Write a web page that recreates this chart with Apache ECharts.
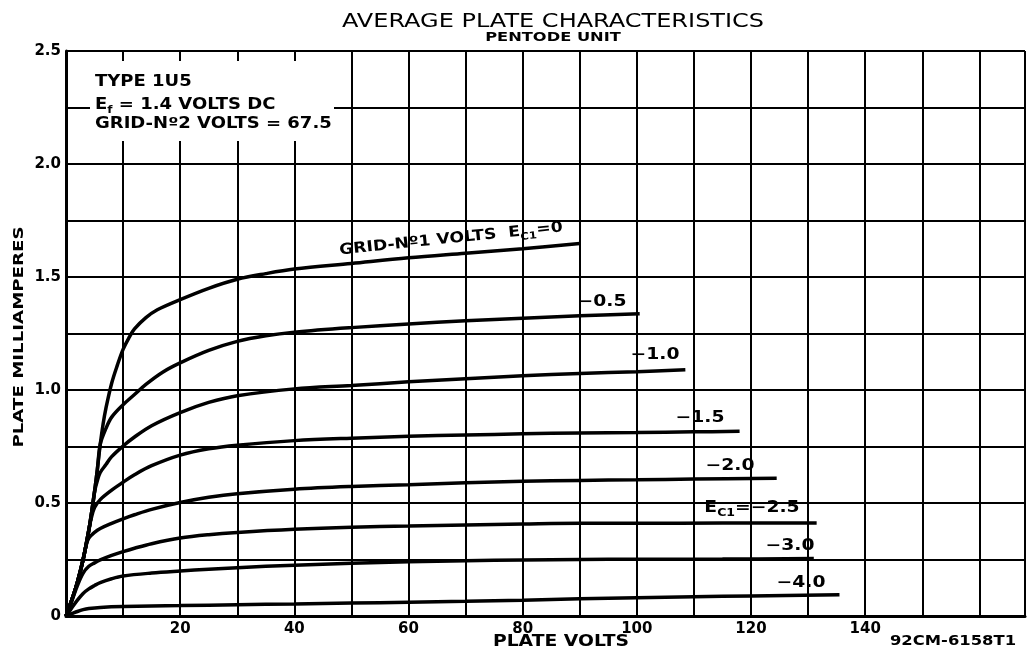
<!DOCTYPE html>
<html><head><meta charset="utf-8">
<script src="https://cdn.jsdelivr.net/npm/echarts@6/dist/echarts.min.js"></script>
<style>html,body{margin:0;padding:0;background:#fff}#c{width:1028px;height:652px}</style>
</head><body><div id="c"></div>
<script>
// ---- data (plate volts, plate milliamperes) ----
const xTickLabels = [20, 40, 60, 80, 100, 120, 140];
const yTickLabels = [0, 0.5, 1.0, 1.5, 2.0, 2.5];
const gridVolts = ['0', '-0.5', '-1.0', '-1.5', '-2.0', '-2.5', '-3.0', '-4.0'];

const ec0 = [[0,0],[1,0.07],[2,0.15],[3,0.25],[4,0.38],[4.5,0.46],[5,0.55],[5.5,0.65],[6,0.76],[6.5,0.85],[7,0.92],[8,1.03],[9,1.11],[10,1.18],[11,1.23],[12,1.27],[14,1.32],[16,1.355],[20,1.40],[25,1.45],[30,1.49],[35,1.515],[40,1.535],[50,1.56],[60,1.585],[70,1.605],[80,1.625],[90,1.648]];
const ecM05 = [[0,0],[1,0.07],[2,0.15],[3,0.25],[4,0.38],[4.5,0.46],[5,0.55],[5.5,0.65],[6,0.76],[7,0.83],[8,0.88],[10,0.935],[12,0.98],[14,1.025],[17,1.08],[20,1.12],[25,1.175],[30,1.215],[35,1.24],[40,1.256],[50,1.276],[60,1.292],[70,1.306],[80,1.318],[90,1.328],[100.5,1.337]];
const ecM10 = [[0,0],[1,0.07],[2,0.15],[3,0.25],[4,0.38],[4.5,0.46],[5,0.55],[5.5,0.6],[6,0.635],[7,0.67],[8,0.705],[10,0.752],[12,0.792],[15,0.842],[20,0.9],[25,0.945],[30,0.975],[40,1.005],[50,1.02],[60,1.036],[70,1.05],[80,1.063],[90,1.073],[100,1.081],[108.5,1.09]];
const ecM15 = [[0,0],[1,0.07],[2,0.15],[3,0.25],[4,0.38],[4.4,0.43],[5,0.48],[6,0.515],[8,0.557],[10,0.592],[12,0.625],[15,0.665],[20,0.712],[25,0.74],[30,0.756],[40,0.776],[50,0.787],[60,0.795],[70,0.801],[80,0.806],[90,0.81],[100,0.812],[110,0.815],[118,0.817]];
const ecM20 = [[0,0],[1,0.07],[2,0.15],[3,0.25],[3.5,0.31],[4,0.345],[5,0.37],[6,0.387],[8,0.41],[10,0.43],[12,0.448],[15,0.472],[20,0.502],[25,0.525],[30,0.541],[40,0.561],[50,0.573],[60,0.581],[70,0.59],[80,0.596],[90,0.6],[100,0.603],[110,0.606],[124.5,0.61]];
const ecM25 = [[0,0],[1,0.065],[2,0.135],[3,0.19],[4,0.22],[5,0.235],[6,0.248],[8,0.268],[10,0.285],[12,0.3],[15,0.32],[20,0.345],[25,0.36],[30,0.37],[40,0.384],[50,0.393],[60,0.398],[70,0.403],[80,0.407],[90,0.41],[100,0.41],[115,0.411],[131.5,0.412]];
const ecM30 = [[0,0],[1,0.035],[2,0.07],[3,0.1],[4,0.12],[5,0.135],[6,0.148],[8,0.165],[10,0.177],[15,0.19],[20,0.199],[25,0.207],[30,0.214],[40,0.225],[50,0.233],[60,0.24],[70,0.245],[80,0.248],[90,0.25],[100,0.251],[115,0.252],[131,0.254]];
const ecM40 = [[0,0],[1,0.01],[2,0.02],[3,0.028],[4,0.033],[6,0.038],[10,0.042],[20,0.046],[30,0.05],[40,0.053],[50,0.057],[60,0.061],[70,0.065],[80,0.07],[90,0.076],[100,0.081],[110,0.085],[120,0.089],[135.5,0.094]];
const curves = [ec0, ecM05, ecM10, ecM15, ecM20, ecM25, ecM30, ecM40];

// ---- chart ----
const FONT = 'DejaVu Sans';
const chart = echarts.init(document.getElementById('c'), null, {renderer: 'canvas'});

function txt(text, x, y, size, opts) {
  opts = opts || {};
  return {
    type: 'text', x: x, y: y, z: 20,
    rotation: opts.rotation || 0,
    scaleX: opts.scaleX || 1.25, scaleY: 1,
    style: {
      text: text, fill: '#000',
      font: (opts.weight || 'bold') + ' ' + size + 'px "' + FONT + '"',
      align: opts.align || 'center', verticalAlign: 'middle',
      rich: opts.rich
    }
  };
}
function richE(size) {
  return {
    a: {fontSize: size, fontWeight: 'bold', fontFamily: FONT, lineHeight: size + 6, fill: '#000', color: '#000'},
    s: {fontSize: Math.round(size * 0.68), fontWeight: 'bold', fontFamily: FONT, lineHeight: Math.round(size * 0.68), verticalAlign: 'bottom', fill: '#000', color: '#000'}
  };
}

const option = {
  animation: false,
  backgroundColor: '#fff',
  grid: {left: 66, right: 0, top: 51, bottom: 36, containLabel: false},
  xAxis: {
    type: 'value', min: 0, max: 168, interval: 10,
    axisLine: {show: true, onZero: false, lineStyle: {color: '#000', width: 3}},
    axisTick: {show: false},
    axisLabel: {
      color: '#000', fontSize: 15, fontWeight: 'bold', fontFamily: FONT, margin: 6,
      formatter: v => xTickLabels.indexOf(v) >= 0 ? String(v) : ''
    },
    splitLine: {show: true, lineStyle: {color: '#000', width: 2}}
  },
  yAxis: {
    type: 'value', min: 0, max: 2.5, interval: 0.25,
    axisLine: {show: true, lineStyle: {color: '#000', width: 3}},
    axisTick: {show: false},
    axisLabel: {
      color: '#000', fontSize: 15, fontWeight: 'bold', fontFamily: FONT, margin: 5,
      formatter: v => {
        const k = yTickLabels.find(t => Math.abs(t - v) < 1e-9);
        return k === undefined ? '' : (k === 0 ? '0' : k.toFixed(1));
      }
    },
    splitLine: {show: true, lineStyle: {color: '#000', width: 2}}
  },
  series: curves.map((d, i) => ({
    name: 'Ec1 = ' + gridVolts[i],
    type: 'line', data: d, showSymbol: false, symbol: 'none',
    smooth: 0.35,
    lineStyle: {color: '#000', width: 3.5},
    z: 5
  })),
  graphic: [
    {type: 'rect', z: 15, shape: {x: 90, y: 61, width: 244, height: 80}, style: {fill: '#fff'}},
    txt('AVERAGE PLATE CHARACTERISTICS', 553, 22, 20, {weight: 'normal', scaleX: 1.2}),
    txt('PENTODE UNIT', 553, 38, 13, {scaleX: 1.25}),
    txt('TYPE 1U5', 95, 82, 15, {align: 'left', scaleX: 1.2}),
    txt('{a|E}{s|f}{a| = 1.4 VOLTS DC}', 95, 105, 15, {align: 'left', scaleX: 1.2, rich: richE(15)}),
    txt('GRID-Nº2 VOLTS = 67.5', 95, 124, 15, {align: 'left', scaleX: 1.2}),
    txt('PLATE MILLIAMPERES', 19, 337, 14, {rotation: Math.PI / 2, scaleX: 1.3}),
    txt('PLATE VOLTS', 561, 642, 15, {scaleX: 1.25}),
    txt('92CM-6158T1', 953, 641, 14, {scaleX: 1.17}),
    txt('{a|GRID-Nº1 VOLTS  E}{s|C1}{a|=0}', 451, 239, 15, {rotation: 0.103, scaleX: 1.15, rich: richE(15)}),
    txt('−0.5', 602, 302, 15),
    txt('−1.0', 655, 355, 15),
    txt('−1.5', 700, 418, 15),
    txt('−2.0', 730, 466, 15),
    txt('{a|E}{s|C1}{a|=−2.5}', 752, 508, 15, {rich: richE(15)}),
    txt('−3.0', 790, 546, 15),
    txt('−4.0', 801, 583, 15)
  ]
};
chart.setOption(option);
</script></body></html>
